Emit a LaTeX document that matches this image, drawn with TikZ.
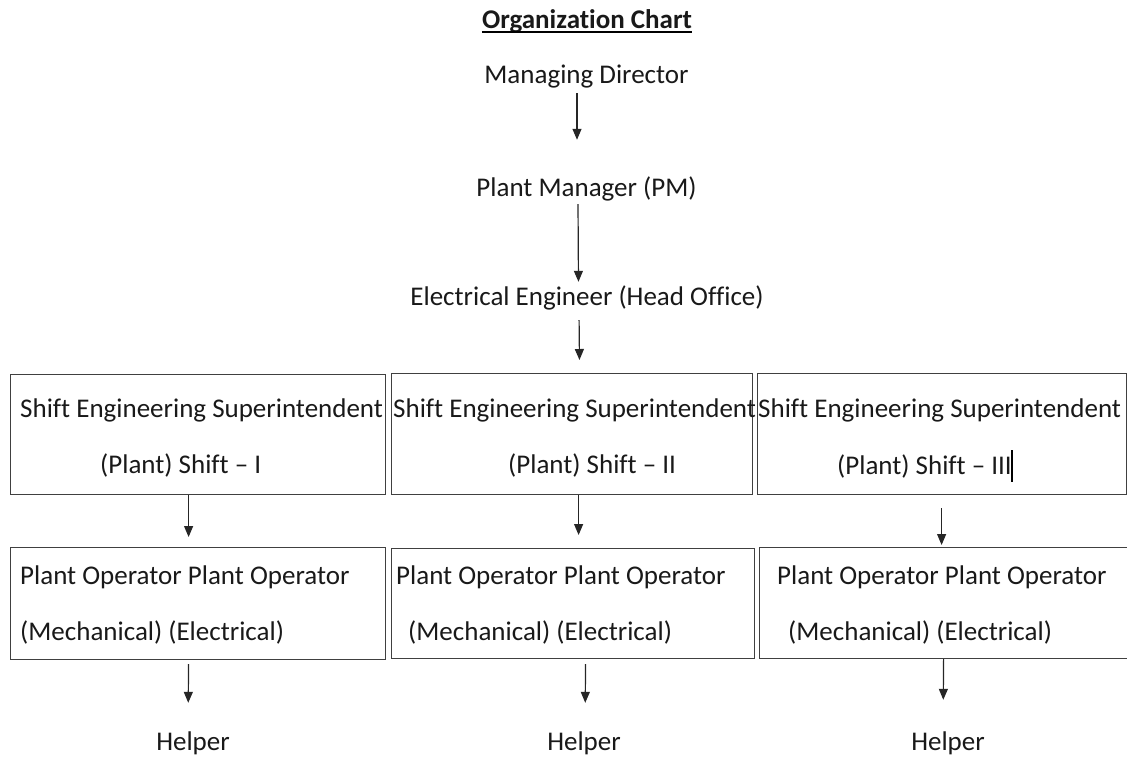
\documentclass[tikz,border=0pt]{standalone}
\usepackage{fontspec}
\setmainfont{Carlito}[Ligatures=NoCommon]
\usetikzlibrary{arrows.meta}
\begin{document}
\begin{tikzpicture}[x=1pt,y=-1pt,>={Triangle[length=11pt,width=9pt]},
	txt/.style={inner sep=0pt,text height=18pt,text depth=6pt,text=black!90,font=\fontsize{27}{32}\selectfont},
	box/.style={draw=black!75,line width=1.2pt,anchor=north west,inner sep=0pt},
	arr/.style={->,line width=1.2pt,black!85}]
	\useasboundingbox (0,0) rectangle (1127,758);

	\node[txt,anchor=base,font=\fontsize{27}{32}\selectfont\bfseries] (title) at (587,28) {Organization Chart};
	\draw[line width=1.4pt] ([yshift=-4pt]title.base west) -- ([yshift=-4pt]title.base east);

	\node[txt,anchor=base] (md) at (586.5,83) {Managing Director};
	\node[txt,anchor=base] (pm) at (586.5,196) {Plant Manager (PM)};
	\node[txt,anchor=base] (ee) at (587,305) {Electrical Engineer (Head Office)};

	% shift rows
	\node[box,minimum width=375pt,minimum height=120pt] (s1) at (10,374) {};
	\node[box,minimum width=361pt,minimum height=121pt] (s2) at (391,373) {};
	\node[box,minimum width=369pt,minimum height=121pt] (s3) at (757,373) {};
	\node[txt,anchor=base west] (s1a) at (20,417) {Shift Engineering Superintendent};
	\node[txt,anchor=base west] (s1b) at (100,473) {(Plant) Shift -- I};
	\node[txt,anchor=base west] (s2a) at (393,417) {Shift Engineering Superintendent};
	\node[txt,anchor=base west] (s2b) at (508,473) {(Plant) Shift -- II};
	\node[txt,anchor=base west] (s3a) at (758,417) {Shift Engineering Superintendent};
	\node[txt,anchor=base west] (s3b) at (837,474) {(Plant) Shift -- III};
	\draw[line width=1.3pt] (1012,450) -- (1012,482);

	% operator rows
	\node[box,minimum width=375pt,minimum height=112pt] (o1) at (10,547) {};
	\node[box,minimum width=363pt,minimum height=110pt] (o2) at (391,548) {};
	\node[box,minimum width=371pt,minimum height=111pt] (o3) at (759,547) {};
	\node[txt,anchor=base west] (o1a) at (20,584) {Plant Operator Plant Operator};
	\node[txt,anchor=base west] (o1b) at (20,640) {(Mechanical) (Electrical)};
	\node[txt,anchor=base west] (o2a) at (396,584) {Plant Operator Plant Operator};
	\node[txt,anchor=base west] (o2b) at (408,640) {(Mechanical) (Electrical)};
	\node[txt,anchor=base west] (o3a) at (777,584) {Plant Operator Plant Operator};
	\node[txt,anchor=base west] (o3b) at (788,640) {(Mechanical) (Electrical)};

	\node[txt,anchor=base] (h1) at (193,750) {Helper};
	\node[txt,anchor=base] (h2) at (584,750) {Helper};
	\node[txt,anchor=base] (h3) at (948,750) {Helper};

	\draw[arr,shorten <=4pt,shorten >=38pt] ([xshift=-9.5pt]md.south) -- ([xshift=-9.5pt]pm.north);
	\draw[arr,shorten <=2pt,shorten >=5pt] ([xshift=-8.5pt]pm.south) -- ([xshift=-8.5pt]ee.north);
	\draw[arr,shorten <=9pt,shorten >=13pt] ([xshift=-8pt]ee.south) -- ([xshift=7.5pt]s2.north);

	\draw[arr,shorten >=10pt] ([xshift=-9.5pt]s1.south) -- ([xshift=-9.5pt]o1.north);
	\draw[arr,shorten >=13pt] ([xshift=6.5pt]s2.south) -- ([xshift=5.5pt]o2.north);
	\draw[arr,shorten <=13pt,shorten >=2pt] ([xshift=-0.5pt]s3.south) -- ([xshift=-3.5pt]o3.north);

	\draw[arr,shorten <=4pt,shorten >=29pt] ([xshift=-9.5pt]o1.south) -- ([xshift=-5pt]h1.north);
	\draw[arr,shorten <=5pt,shorten >=29pt] ([xshift=12.5pt]o2.south) -- ([xshift=1pt]h2.north);
	\draw[arr,shorten >=32pt] ([xshift=-1.5pt]o3.south) -- ([xshift=-5pt]h3.north);

\end{tikzpicture}
\end{document}
